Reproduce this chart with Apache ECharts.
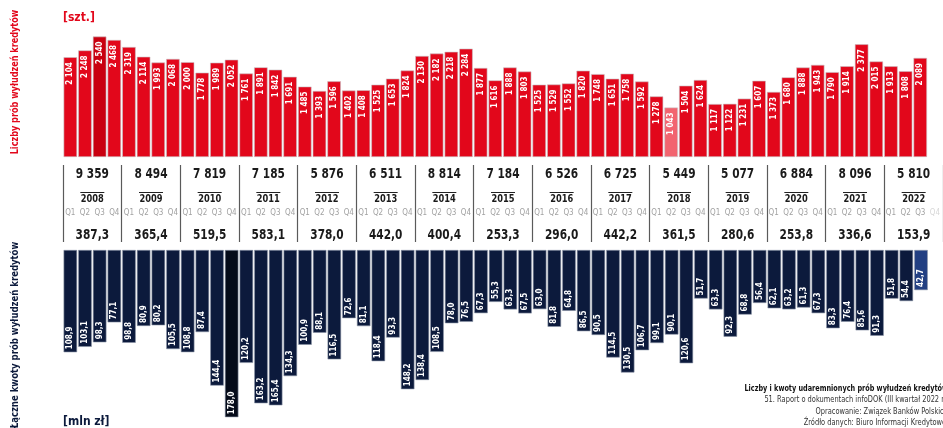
<!DOCTYPE html>
<html>
<head>
<meta charset="utf-8">
<script src="https://cdn.jsdelivr.net/npm/echarts@6/dist/echarts.min.js"></script>
<style>
html,body{margin:0;padding:0;background:#fff;}
#chart{width:943px;height:428px;}
</style>
</head>
<body>
<div id="chart"></div>
<script>
// ---- data ----
const years = ['2008','2009','2010','2011','2012','2013','2014','2015','2016','2017','2018','2019','2020','2021','2022'];
const quarterNames = ['Q1','Q2','Q3','Q4'];
const counts = [
  2104, 2248, 2540, 2468,
  2319, 2114, 1993, 2068,
  2000, 1778, 1989, 2052,
  1761, 1891, 1842, 1691,
  1485, 1393, 1596, 1402,
  1408, 1525, 1653, 1824,
  2130, 2182, 2218, 2284,
  1877, 1616, 1888, 1803,
  1525, 1529, 1552, 1820,
  1748, 1651, 1758, 1592,
  1278, 1043, 1504, 1624,
  1117, 1122, 1231, 1607,
  1373, 1680, 1888, 1943,
  1790, 1914, 2377, 2015,
  1913, 1808, 2089
];
const amounts = [
  108.9, 103.1, 98.3, 77.1,
  98.8, 80.9, 80.2, 105.5,
  108.8, 87.4, 144.4, 178.0,
  120.2, 163.2, 165.4, 134.3,
  100.9, 88.1, 116.5, 72.6,
  81.1, 118.4, 93.3, 148.2,
  138.4, 108.5, 78.0, 76.5,
  67.3, 55.3, 63.3, 67.5,
  63.0, 81.8, 64.8, 86.5,
  90.5, 114.5, 130.5, 106.7,
  99.1, 90.1, 120.6, 51.7,
  63.3, 92.3, 68.8, 56.4,
  62.1, 63.2, 61.3, 67.3,
  83.3, 76.4, 85.6, 91.3,
  51.8, 54.4, 42.7
];
const yearCountTotals = [9359, 8494, 7819, 7185, 5876, 6511, 8814, 7184, 6526, 6725, 5449, 5077, 6884, 8096, 5810];
const yearAmountTotals = [387.3, 365.4, 519.5, 583.1, 378.0, 442.0, 400.4, 253.3, 296.0, 442.2, 361.5, 280.6, 253.8, 336.6, 153.9];

// ---- helpers ----
const FONT = "'Liberation Sans Narrow','DejaVu Sans Condensed','Roboto Condensed',sans-serif";
const RED = '#e2071b', RED_MAX = '#c90010', RED_MIN = '#f2646f';
const NAVY = '#0c1a3c', NAVY_MAX = '#050b19', NAVY_MIN = '#223f82';
function fmtCount(n){ return n >= 1000 ? Math.floor(n/1000) + ' ' + String(n % 1000).padStart(3,'0') : String(n); }
function fmtAmount(v){ return v.toFixed(1).replace('.', ','); }

const categories = [];
years.forEach(y => quarterNames.forEach(q => categories.push(y + ' ' + q)));

const cMax = Math.max(...counts), cMin = Math.min(...counts);
const aMax = Math.max(...amounts), aMin = Math.min(...amounts);

const countData = categories.map((c,i) => i < counts.length ? {
  value: counts[i],
  itemStyle: {color: counts[i] === cMax ? RED_MAX : counts[i] === cMin ? RED_MIN : RED}
} : '-');
const amountData = categories.map((c,i) => i < amounts.length ? {
  value: amounts[i],
  itemStyle: {color: amounts[i] === aMax ? NAVY_MAX : amounts[i] === aMin ? NAVY_MIN : NAVY}
} : '-');
const quarterAxisData = categories.map((c,i) => ({
  value: c,
  textStyle: {color: i < counts.length ? '#a2a2a2' : '#d8d8d8'}
}));
const bandData = years.map((y,i) => [y, yearCountTotals[i], yearAmountTotals[i]]);

const chart = echarts.init(document.getElementById('chart'), null, {renderer:'canvas'});
const GL = 63, GW = 882;

chart.setOption({
  animation: false,
  backgroundColor: '#fff',
  grid: [
    {left: GL, width: GW, top: 10, height: 147},
    {left: GL, width: GW, top: 165, height: 77},
    {left: GL, width: GW, top: 250, height: 170}
  ],
  xAxis: [
    {gridIndex:0, type:'category', data: quarterAxisData,
     axisLine:{show:false}, axisTick:{show:false},
     axisLabel:{interval:0, margin:52, fontSize:8, fontFamily:FONT,
       formatter: v => v.split(' ')[1]}},
    {gridIndex:1, type:'category', data: years,
     axisLine:{show:false}, axisTick:{show:false}, axisLabel:{show:false},
     splitLine:{show:true, lineStyle:{color:'#5a5a5a', width:1.2}}},
    {gridIndex:2, type:'category', data: categories,
     axisLine:{show:false}, axisTick:{show:false}, axisLabel:{show:false}}
  ],
  yAxis: [
    {gridIndex:0, type:'value', min:0, max:3100, show:false},
    {gridIndex:1, type:'value', min:0, max:1, show:false},
    {gridIndex:2, type:'value', min:0, max:181, inverse:true, show:false}
  ],
  series: [
    {type:'bar', xAxisIndex:0, yAxisIndex:0, data: countData, barCategoryGap:'8%',
     itemStyle:{borderColor:'#c9c3c6', borderWidth:0.6},
     label:{show:true, position:'insideTop', rotate:90, align:'right', verticalAlign:'middle',
       distance:5, color:'#fff', fontSize:8, fontWeight:'bold', fontFamily:FONT,
       formatter: p => fmtCount(p.value)}},
    {type:'custom', xAxisIndex:1, yAxisIndex:1, data: bandData, silent:true,
     renderItem: function(params, api){
       const x = api.coord([api.value(0), 0])[0];
       const yr = years[params.dataIndex];
       return {type:'group', children:[
         {type:'text', x:x, y:174, scaleX:0.84, style:{text: fmtCount(api.value(1)), align:'center', verticalAlign:'middle',
           fill:'#1a1a1a', font:'bold 14px ' + FONT}},
         {type:'line', shape:{x1:x-12, y1:192.5, x2:x+12, y2:192.5}, style:{stroke:'#222', lineWidth:1}},
         {type:'text', x:x, y:199.5, scaleX:0.92, style:{text: yr, align:'center', verticalAlign:'middle',
           fill:'#1a1a1a', font:'bold 10px ' + FONT}},
         {type:'text', x:x, y:235, scaleX:0.84, style:{text: fmtAmount(api.value(2)), align:'center', verticalAlign:'middle',
           fill:'#1a1a1a', font:'bold 14px ' + FONT}}
       ]};
     }},
    {type:'bar', xAxisIndex:2, yAxisIndex:2, data: amountData, barCategoryGap:'8%',
     itemStyle:{borderColor:'#8a93a6', borderWidth:0.6},
     label:{show:true, position:'insideBottom', rotate:90, align:'left', verticalAlign:'middle',
       distance:3, color:'#fff', fontSize:8, fontWeight:'bold', fontFamily:FONT,
       formatter: p => fmtAmount(p.value)}}
  ],
  graphic: [
    {type:'text', x:15, y:82, rotation:Math.PI/2, scaleX:0.82,
     style:{text:'Liczby prób wyłudzeń kredytów', align:'center', verticalAlign:'middle',
       fill:'#e2071b', font:'bold 11px ' + FONT}},
    {type:'text', x:15, y:335, rotation:Math.PI/2, scaleX:0.86,
     style:{text:'Łączne kwoty prób wyłudzeń kredytów', align:'center', verticalAlign:'middle',
       fill:'#0c1a3c', font:'bold 11px ' + FONT}},
    {type:'text', x:63, y:18, style:{text:'[szt.]', verticalAlign:'middle', fill:'#e2071b', font:'bold 12px ' + FONT}},
    {type:'text', x:63, y:422, style:{text:'[mln zł]', verticalAlign:'middle', fill:'#0c1a3c', font:'bold 12px ' + FONT}},
    {type:'text', x:948, y:389, scaleX:0.76, style:{text:'Liczby i kwoty udaremnionych prób wyłudzeń kredytów', align:'right', verticalAlign:'middle', fill:'#111', font:'bold 9.5px ' + FONT}},
    {type:'text', x:948, y:400, scaleX:0.78, style:{text:'51. Raport o dokumentach infoDOK (III kwartał 2022 r.)', align:'right', verticalAlign:'middle', fill:'#333', font:'9.5px ' + FONT}},
    {type:'text', x:948, y:412, scaleX:0.78, style:{text:'Opracowanie: Związek Banków Polskich', align:'right', verticalAlign:'middle', fill:'#333', font:'9.5px ' + FONT}},
    {type:'text', x:948, y:423, scaleX:0.78, style:{text:'Źródło danych: Biuro Informacji Kredytowej', align:'right', verticalAlign:'middle', fill:'#333', font:'9.5px ' + FONT}}
  ]
});
</script>
</body>
</html>
